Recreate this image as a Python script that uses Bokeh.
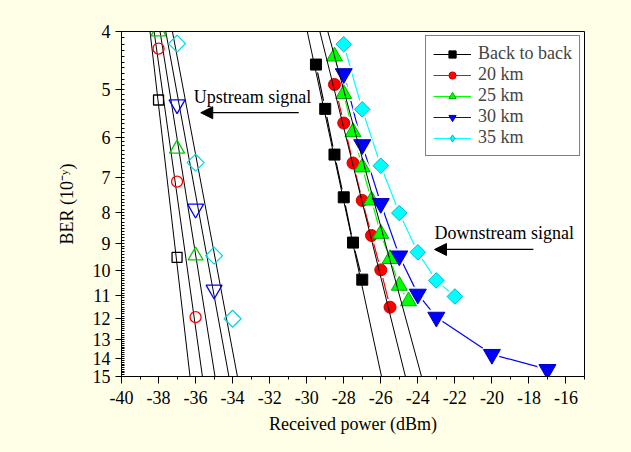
import numpy as np
from bokeh.plotting import figure
from bokeh.models import Range1d, FixedTicker, Legend, LegendItem, Arrow, NormalHead, Label
from bokeh.embed import file_html
from bokeh.resources import INLINE

FONT = "Liberation Serif"
BG = "#FFFFE7"

# ---- axis ticks ----
x_ticks = list(range(-40, -15, 2))
x_minor = list(range(-39, -14, 2))
x_tick_labels = [str(t) for t in x_ticks]
y_ticks = list(range(4, 16))
y_tick_labels = [str(t) for t in y_ticks]

series_names = ["Back to back", "20 km", "25 km", "30 km", "35 km"]

# ---- downstream (filled markers) ----
down_b2b_x = [-29.5, -29, -28.5, -28, -27.5, -27]
down_b2b_y = [4.54, 5.38, 6.41, 7.55, 8.98, 10.35]
down_20_x = [-28.5, -28, -27.5, -27, -26.5, -26, -25.5]
down_20_y = [4.90, 5.68, 6.62, 7.64, 8.74, 9.97, 11.50]
down_25_x = [-28.5, -28, -27.5, -27, -26.5, -26, -25.5, -25, -24.5]
down_25_y = [4.40, 5.08, 5.88, 6.73, 7.64, 8.68, 9.56, 10.59, 11.24]
down_30_x = [-28, -27, -26, -25, -24, -23, -20, -17]
down_30_y = [4.70, 6.17, 7.73, 9.45, 10.94, 11.95, 13.78, 14.6]
down_35_x = [-28, -27, -26, -25, -24, -23, -22]
down_35_y = [4.20, 5.39, 6.69, 8.02, 9.32, 10.38, 11.04]

# ---- upstream (hollow markers) ----
up_b2b_x = [-38, -37]
up_b2b_y = [5.2, 9.5]
up_20_x = [-38, -37, -36]
up_20_y = [4.27, 7.11, 11.95]
up_25_x = [-38, -37, -36]
up_25_y = [4.0, 6.27, 9.44]
up_30_x = [-37, -36, -35]
up_30_y = [5.29, 7.89, 10.76]
up_35_x = [-37, -36, -35, -34]
up_35_y = [4.19, 6.61, 9.44, 12.02]

# ---- linear fit lines (x at BER 1e-4 and 1e-15) ----
fit_y_top = 4
fit_y_bottom = 15
up_fit_x_top = [-38.46, -38.24, -37.92, -37.61, -37.25]
up_fit_x_bottom = [-36.30, -35.63, -34.95, -34.20, -33.74]
down_fit_x_top = [-29.97, -29.29, -28.86]
down_fit_x_bottom = [-25.96, -24.67, -23.80]

p = figure(width=623, height=444, output_backend="svg", toolbar_location=None,
           x_range=Range1d(-40, -15), y_range=Range1d(15, 4), y_axis_type="log",
           min_border_left=121, min_border_right=39, min_border_top=31, min_border_bottom=68)
p.background_fill_color = "white"
p.border_fill_color = BG
p.outline_line_color = "black"
p.outline_line_width = 1
p.grid.visible = False

p.xaxis.ticker = FixedTicker(ticks=x_ticks, minor_ticks=x_minor)
p.xaxis.major_label_overrides = {t: l for t, l in zip(x_ticks, x_tick_labels)}
p.yaxis.ticker = FixedTicker(ticks=y_ticks, minor_ticks=[round(v, 1) for v in np.arange(4, 15.001, 0.1)])
p.yaxis.major_label_overrides = {t: l for t, l in zip(y_ticks, y_tick_labels)}

for ax in (p.xaxis, p.yaxis):
    ax.axis_line_color = "black"
    ax.major_tick_line_color = "black"
    ax.minor_tick_line_color = "black"
    ax.major_label_text_font = FONT
    ax.major_label_text_font_size = "18px"
    ax.major_label_text_color = "black"
    ax.axis_label_text_font = FONT
    ax.axis_label_text_font_size = "18px"
    ax.axis_label_text_font_style = "normal"
    ax.axis_label_text_color = "black"
p.xaxis.major_tick_out = 7
p.xaxis.major_tick_in = 0
p.xaxis.minor_tick_out = 3
p.xaxis.minor_tick_in = 0
p.xaxis.major_label_standoff = 7
p.xaxis.axis_label_standoff = 7
p.yaxis.major_tick_out = 6
p.yaxis.major_tick_in = 0
p.yaxis.minor_tick_out = 0
p.yaxis.minor_tick_in = 3
p.yaxis.major_label_standoff = 5
p.yaxis.axis_label_standoff = 13
p.xaxis.axis_label = "Received power (dBm)"
p.yaxis.axis_label = "BER (10\u207B\u02B8)"

colors = ["black", "#FF0000", "#00FF00", "#0000FF", "#00FFFF"]
edge = ["black", "#D00000", "#00B000", "#0000C0", "#00B8C8"]
up_edge = ["black", "#FF0000", "#00CC00", "#0000FF", "#00D8E0"]
markers = ["square", "circle", "triangle", "inverted_triangle", "square"]
legend_markers = ["square", "circle", "triangle", "inverted_triangle", "diamond"]
angles = [0.0, 0.0, 0.0, 0.0, np.pi / 4]
down_sizes = [11, 12, 16, 17, 11]
up_sizes = [10, 11, 15, 16, 12]

down = [(down_b2b_x, down_b2b_y), (down_20_x, down_20_y), (down_25_x, down_25_y),
        (down_30_x, down_30_y), (down_35_x, down_35_y)]
up = [(up_b2b_x, up_b2b_y), (up_20_x, up_20_y), (up_25_x, up_25_y),
      (up_30_x, up_30_y), (up_35_x, up_35_y)]

# upstream fit lines
p.segment(x0=up_fit_x_top, y0=[fit_y_top] * 5, x1=up_fit_x_bottom, y1=[fit_y_bottom] * 5,
          line_color="black", line_width=1)

# downstream connecting lines
line_rs = []
for i, (xs, ys) in enumerate(down):
    line_rs.append(p.line(xs, ys, line_color=colors[i], line_width=1.2))

# white gaps around markers (line interruption)
for i, (xs, ys) in enumerate(down):
    p.scatter(xs, ys, marker=markers[i], size=down_sizes[i], angle=angles[i], angle_units="rad",
              fill_color="white", line_color="white", line_width=5)

legend_items = []
for i, (xs, ys) in enumerate(down):
    p.scatter(xs, ys, marker=markers[i], size=down_sizes[i], angle=angles[i], angle_units="rad",
              fill_color=colors[i], line_color=edge[i], line_width=1)
    # marker used only for the legend symbol
    lm = p.scatter([np.nan], [np.nan], marker=legend_markers[i], size=down_sizes[i],
                   fill_color=colors[i], line_color=edge[i], line_width=1)
    legend_items.append(LegendItem(label=series_names[i], renderers=[line_rs[i], lm]))

# downstream fit lines
p.segment(x0=down_fit_x_top, y0=[fit_y_top] * 3, x1=down_fit_x_bottom, y1=[fit_y_bottom] * 3,
          line_color="black", line_width=1)

for i, (xs, ys) in enumerate(up):
    p.scatter(xs, ys, marker=markers[i], size=up_sizes[i], angle=angles[i], angle_units="rad",
              fill_color=None, line_color=up_edge[i], line_width=1.3)

legend = Legend(items=legend_items, location="top_right", margin=4,
                label_text_font=FONT, label_text_font_size="18px",
                glyph_width=38, glyph_height=18, label_height=18, spacing=0,
                padding=7, label_standoff=7,
                border_line_color="black", border_line_width=1,
                background_fill_color="white", background_fill_alpha=1)
p.add_layout(legend, "center")

# annotations
p.add_layout(Label(x=-36.1, y=5.15, text="Upstream signal", text_font=FONT,
                   text_font_size="18px", text_baseline="middle", text_color="black"))
p.add_layout(Arrow(x_start=-30.43, y_start=5.46, x_end=-35.72, y_end=5.46,
                   line_color="black", line_width=1.3,
                   end=NormalHead(size=12, fill_color="black", line_color="black")))
p.add_layout(Label(x=-23.1, y=8.67, text="Downstream signal", text_font=FONT,
                   text_font_size="18px", text_baseline="middle", text_color="black"))
p.add_layout(Arrow(x_start=-17.76, y_start=9.22, x_end=-23.1, y_end=9.22,
                   line_color="black", line_width=1.3,
                   end=NormalHead(size=12, fill_color="black", line_color="black")))

html = file_html(p, INLINE)
html = html.replace("<head>", "<head><style>html, body { background: %s; }</style>" % BG, 1)
open("out.html", "w").write(html)
